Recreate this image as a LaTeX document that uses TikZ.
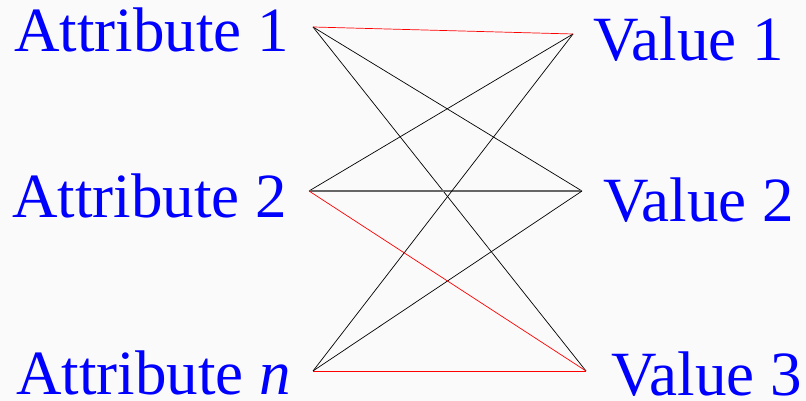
\documentclass[tikz,border=0pt]{standalone}
\usepackage{fontspec}
\setmainfont{Liberation Serif}
\begin{document}
\begin{tikzpicture}[x=1pt,y=1pt,
  lbl/.style={text=blue,inner sep=0pt,anchor=base west,font=\fontsize{63}{70}\selectfont},
  link/.style={black,line width=0.7pt},
  hot/.style={red,line width=0.7pt}]
\fill[black!2] (0,0) rectangle (806,401);
\useasboundingbox (0,0) rectangle (806,401);
% labels
\node[lbl] (attr1) at (14,349) {Attribute 1};
\node[lbl] (attr2) at (12,183) {Attribute 2};
\node[lbl] (attrn) at (16,6) {Attribute \textit{n}};
\node[lbl] (val1) at (593,340) {Value 1};
\node[lbl] (val2) at (603,179) {Value 2};
\node[lbl] (val3) at (611,5) {Value 3};
% end points of the links
\coordinate (a1) at (313,374);
\coordinate (a2) at (309,210);
\coordinate (an) at (313,30);
\coordinate (v1) at (573,367);
\coordinate (v2) at (582,210);
\coordinate (v3) at (586,30);
\draw[link] (a1) -- (v2);
\draw[link] (a1) -- (v3);
\draw[link] (a2) -- (v1);
\draw[black!60,line width=1.4pt] (a2) -- (v2);
\draw[link] (an) -- (v1);
\draw[link] (an) -- (v2);
\draw[hot] (a1) -- (v1);
\draw[hot] (a2) -- (v3);
\draw[hot] (an) -- (v3);
\end{tikzpicture}
\end{document}
